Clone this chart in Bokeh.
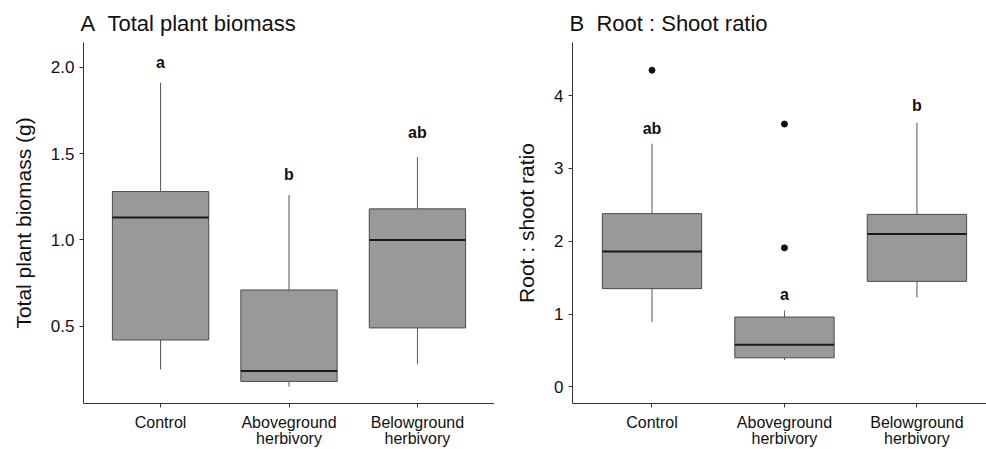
from bokeh.plotting import figure
from bokeh.layouts import row
from bokeh.models import Range1d, FixedTicker, ColumnDataSource
from bokeh.core.properties import value
from bokeh.embed import file_html
from bokeh.resources import INLINE

# ---------------- data ----------------
categories = ["Control", "Aboveground\nherbivory", "Belowground\nherbivory"]

# Panel A: Total plant biomass (g)
bio_low = [0.25, 0.15, 0.28]
bio_q1 = [0.42, 0.18, 0.49]
bio_med = [1.13, 0.24, 1.00]
bio_q3 = [1.28, 0.71, 1.18]
bio_high = [1.91, 1.26, 1.48]
bio_letters = ["a", "b", "ab"]
bio_letter_y = [2.03, 1.38, 1.62]
bio_ticks = [0.5, 1.0, 1.5, 2.0]

# Panel B: Root : shoot ratio
rs_low = [0.89, 0.37, 1.23]
rs_q1 = [1.35, 0.40, 1.45]
rs_med = [1.86, 0.58, 2.10]
rs_q3 = [2.38, 0.96, 2.37]
rs_high = [3.34, 1.05, 3.63]
rs_out_cat = [1, 2, 2]          # 1-based category index
rs_out_val = [4.35, 3.61, 1.91]
rs_letters = ["ab", "a", "b"]
rs_letter_y = [3.55, 1.27, 3.87]
rs_ticks = [0, 1, 2, 3, 4]

FONT = "Liberation Sans"
AX = "#333333"
NB = "\u00a0\u00a0"


def make_panel(title, ylabel, low, q1, med, q3, high, letters, letter_y,
               yticks, yr, xr_end, width, border_left, fmt):
    pos = list(range(1, len(categories) + 1))
    p = figure(width=width, height=449, output_backend="svg", toolbar_location=None,
               x_range=Range1d(0.4, xr_end), y_range=Range1d(*yr),
               min_border_left=border_left, min_border_right=0,
               min_border_top=42, min_border_bottom=43)
    p.outline_line_color = None
    p.xgrid.visible = False
    p.ygrid.visible = False
    p.background_fill_color = "white"
    p.border_fill_color = "white"

    src = ColumnDataSource(dict(x=pos, low=low, q1=q1, med=med, q3=q3, high=high))
    # whiskers
    p.segment(x0="x", y0="q3", x1="x", y1="high", source=src, line_color="#555555", line_width=1)
    p.segment(x0="x", y0="low", x1="x", y1="q1", source=src, line_color="#555555", line_width=1)
    # boxes
    p.vbar(x="x", bottom="q1", top="q3", width=0.75, source=src,
           fill_color="#999999", line_color="#4a4a4a", line_width=1)
    # medians
    p.rect(x="x", y="med", width=0.75, height=2, height_units="screen", source=src,
           fill_color="#1a1a1a", line_color=None)
    # letters
    p.text(x=pos, y=letter_y, text=letters, text_align="center", text_baseline="middle",
           text_font=value(FONT), text_font_size="16px", text_font_style="bold",
           text_color="#111111")

    # x axis
    xa = p.xaxis[0]
    xa.ticker = FixedTicker(ticks=pos)
    xa.major_label_overrides = {i: c for i, c in zip(pos, categories)}
    xa.minor_tick_line_color = None
    xa.major_tick_out = 4
    xa.major_tick_in = 0
    xa.axis_line_color = AX
    xa.major_tick_line_color = AX
    xa.major_label_standoff = 6
    xa.major_label_text_font = FONT
    xa.major_label_text_font_size = "16px"
    xa.major_label_text_line_height = 0.95
    xa.major_label_text_color = "#111111"

    # y axis
    ya = p.yaxis[0]
    ya.ticker = FixedTicker(ticks=yticks)
    ya.major_label_overrides = {t: fmt % t for t in yticks}
    ya.minor_tick_line_color = None
    ya.major_tick_out = 4
    ya.major_tick_in = 0
    ya.axis_line_color = AX
    ya.major_tick_line_color = AX
    ya.major_label_standoff = 5
    ya.major_label_text_font = FONT
    ya.major_label_text_font_size = "17px"
    ya.major_label_text_color = "#111111"
    ya.axis_label = ylabel
    ya.axis_label_text_font = FONT
    ya.axis_label_text_font_size = "21px"
    ya.axis_label_text_font_style = "normal"
    ya.axis_label_text_color = "#111111"
    ya.axis_label_standoff = 13

    p.title.text = title
    p.title.text_font = FONT
    p.title.text_font_size = "22px"
    p.title.text_font_style = "normal"
    p.title.text_color = "#111111"
    p.title.align = "left"
    p.title.offset = -3
    p.title.standoff = 14
    return p


pA = make_panel("A" + NB + "Total plant biomass", "Total plant biomass (g)",
                bio_low, bio_q1, bio_med, bio_q3, bio_high, bio_letters, bio_letter_y,
                bio_ticks, (0.052, 2.144), 3.6, 494, 83, "%.1f")

pB = make_panel("B" + NB + "Root : Shoot ratio", "Root : shoot ratio",
                rs_low, rs_q1, rs_med, rs_q3, rs_high, rs_letters, rs_letter_y,
                rs_ticks, (-0.227, 4.73), 3.525, 492, 78, "%d")
pB.scatter(x=rs_out_cat, y=rs_out_val, size=6, marker="circle",
           fill_color="#111111", line_color="#111111")

layout = row(pA, pB)
open("out.html", "w").write(file_html(layout, INLINE))
